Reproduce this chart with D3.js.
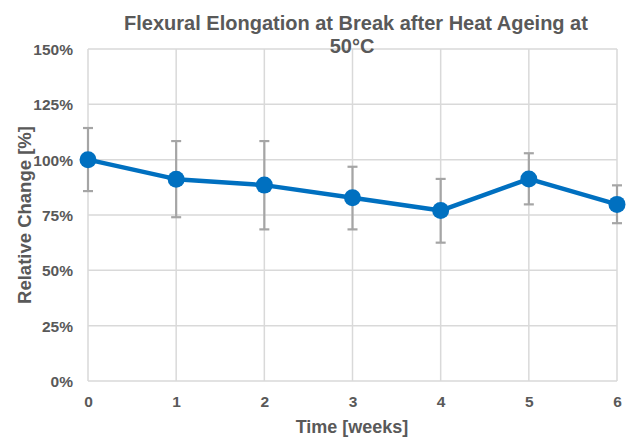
<!DOCTYPE html>
<html><head><meta charset="utf-8">
<script src="https://cdn.jsdelivr.net/npm/d3@7"></script>
<style>body{margin:0;background:#fff;}svg{display:block;}text{font-family:"Liberation Sans",Arial,sans-serif;font-weight:bold;fill:#595959;}</style>
</head><body>
<script>
const weeks = [0, 1, 2, 3, 4, 5, 6];
const relChange = [100, 91.2, 88.5, 82.8, 77.0, 91.3, 79.8];
const errLow = [85.8, 74.0, 68.5, 68.5, 62.5, 79.8, 71.3];
const errHigh = [114.3, 108.4, 108.4, 96.8, 91.3, 102.9, 88.4];
const yTicks = [0, 25, 50, 75, 100, 125, 150];
const title = ["Flexural Elongation at Break after Heat Ageing at", "50°C"];

const W = 630, H = 439;
const m = {left: 88, right: 13, top: 49, bottom: 58};
const svg = d3.select("body").append("svg").attr("width", W).attr("height", H);
const x = d3.scaleLinear().domain([0, 6]).range([m.left, W - m.right]);
const y = d3.scaleLinear().domain([0, 150]).range([H - m.bottom, m.top]);

const grid = svg.append("g");
grid.selectAll("line.h").data(yTicks).join("line")
  .attr("x1", x(0)).attr("x2", x(6)).attr("y1", d => y(d)).attr("y2", d => y(d))
  .attr("stroke", "#d9d9d9").attr("stroke-width", 1.5);
grid.selectAll("line.v").data(weeks).join("line")
  .attr("y1", y(0)).attr("y2", y(150)).attr("x1", d => x(d)).attr("x2", d => x(d))
  .attr("stroke", "#d9d9d9").attr("stroke-width", 1.5);

const yAxis = d3.axisLeft(y).tickValues(yTicks).tickFormat(d => d + "%").tickSize(0).tickPadding(15);
const ga = svg.append("g").attr("transform", `translate(${x(0)},0)`).call(yAxis);
ga.select(".domain").remove();
ga.selectAll("text").style("font-size", "15.5px").attr("fill", "#595959").attr("dy", "0.35em");

const xAxis = d3.axisBottom(x).tickValues(weeks).tickFormat(d3.format("d")).tickSize(0).tickPadding(15);
const gx = svg.append("g").attr("transform", `translate(0,${y(0)})`).call(xAxis);
gx.select(".domain").remove();
gx.selectAll("text").style("font-size", "15.5px").attr("fill", "#595959");

// error bars
const eb = svg.append("g").attr("stroke", "#a5a5a5").attr("stroke-width", 2.2);
weeks.forEach((w, i) => {
  eb.append("line").attr("x1", x(w)).attr("x2", x(w)).attr("y1", y(errLow[i])).attr("y2", y(errHigh[i]));
  [errLow[i], errHigh[i]].forEach(v => eb.append("line").attr("x1", x(w) - 5).attr("x2", x(w) + 5).attr("y1", y(v)).attr("y2", y(v)));
});

const line = d3.line().x((d, i) => x(weeks[i])).y(d => y(d));
svg.append("path").datum(relChange).attr("d", line).attr("fill", "none")
  .attr("stroke", "#0070c0").attr("stroke-width", 4.5).attr("stroke-linejoin", "round");
svg.selectAll("circle.pt").data(relChange).join("circle")
  .attr("cx", (d, i) => x(weeks[i])).attr("cy", d => y(d)).attr("r", 8.5).attr("fill", "#0070c0");

svg.append("text").attr("x", 356).attr("y", 30).attr("text-anchor", "middle").style("font-size", "20px").text(title[0]);
svg.append("text").attr("x", 352).attr("y", 53).attr("text-anchor", "middle").style("font-size", "20px").text(title[1]);
svg.append("text").attr("x", 352).attr("y", 433).attr("text-anchor", "middle").style("font-size", "18px").text("Time [weeks]");
svg.append("text").attr("transform", `translate(31,215) rotate(-90)`).attr("text-anchor", "middle").style("font-size", "18.5px").text("Relative Change [%]");
</script>
</body></html>
